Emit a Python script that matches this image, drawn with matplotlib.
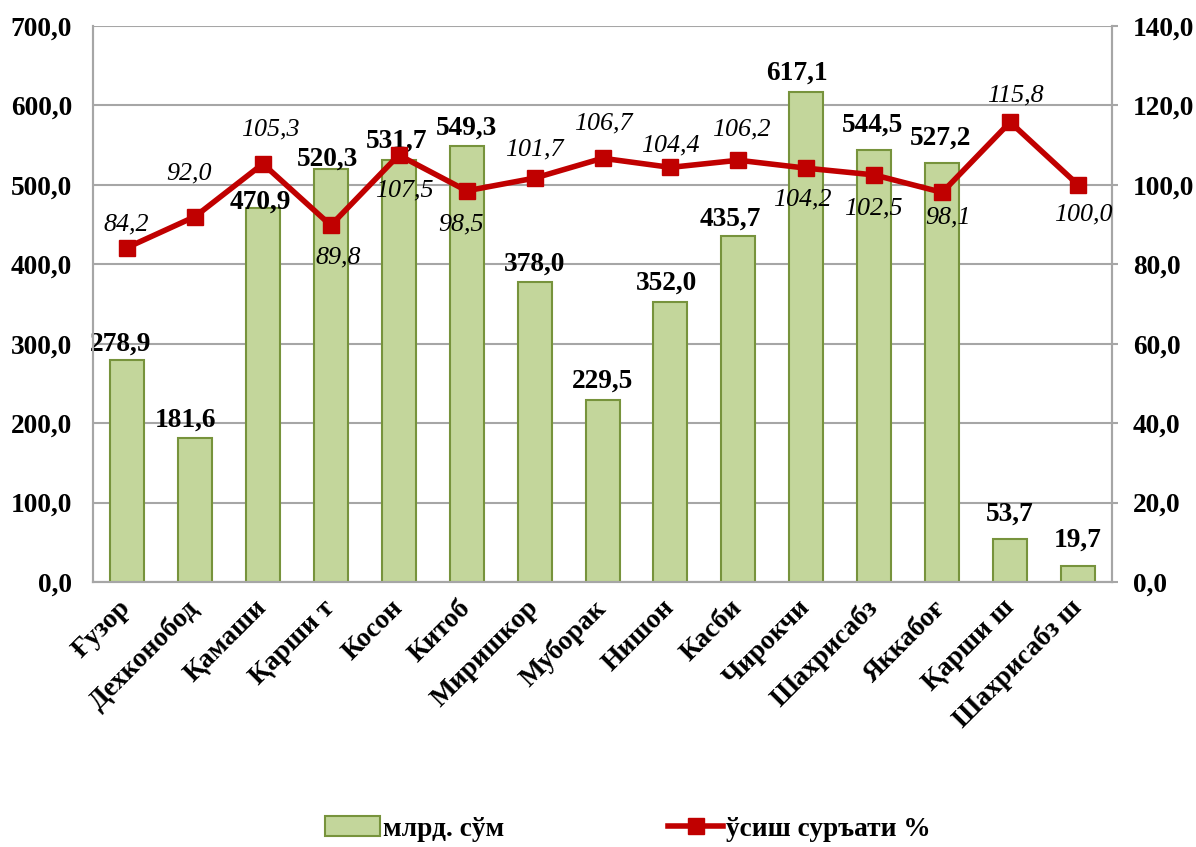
import matplotlib
matplotlib.use("Agg")
import matplotlib.pyplot as plt
from matplotlib.patches import Patch
from matplotlib.lines import Line2D
import numpy as np

plt.rcParams['font.family'] = ['Liberation Serif', 'DejaVu Serif']

DISTRICTS = ["Ғузор", "Дехконобод", "Қамаши", "Қарши т", "Косон", "Китоб",
             "Миришкор", "Муборак", "Нишон", "Касби", "Чирокчи", "Шахрисабз",
             "Яккабоғ", "Қарши ш", "Шахрисабз ш"]
VOLUME = [278.9, 181.6, 470.9, 520.3, 531.7, 549.3, 378.0, 229.5, 352.0,
          435.7, 617.1, 544.5, 527.2, 53.7, 19.7]
GROWTH = [84.2, 92.0, 105.3, 89.8, 107.5, 98.5, 101.7, 106.7, 104.4, 106.2,
          104.2, 102.5, 98.1, 115.8, 100.0]
LEFT_TICKS = [0, 100, 200, 300, 400, 500, 600, 700]
RIGHT_TICKS = [0, 20, 40, 60, 80, 100, 120, 140]
BAR_NAME = "млрд. сўм"
LINE_NAME = "ўсиш суръати %"

# label nudges in pixels (dx, dy), picked by eye from the reference
BAR_OFFSETS = [(-6, 16), (-9, 18), (-3, 6), (-3, 10), (-2, 19), (0, 18),
               (0, 18), (0, 19), (-4, 19), (-8, 17), (-9, 19), (-2, 24),
               (-2, 25), (0, 25), (0, 26)]
LINE_OFFSETS = [(-1, 23), (-6, 43), (7, 34), (7, -32), (6, -35), (-6, -34),
                (0, 29), (1, 35), (0, 22), (3, 31), (-4, -31), (-1, -34),
                (6, -25), (5, 27), (5, -30)]

GRID = "#A6A6A6"
BAR_FILL = "#C3D69B"
BAR_EDGE = "#77933C"
LINE_RED = "#C00000"
BOLD_SIZE = 19.7


def fmt(v):
    return f"{v:.1f}".replace(".", ",")


def main():
    fig = plt.figure(figsize=(11.96, 8.47), dpi=100)
    fig.subplots_adjust(left=0.0778, right=0.9298, top=0.9693, bottom=0.3129)
    ax = fig.add_subplot(111)
    ax2 = ax.twinx()

    x = np.arange(len(DISTRICTS))
    ax.bar(x, VOLUME, width=0.5, color=BAR_FILL, edgecolor=BAR_EDGE,
           linewidth=1.5, zorder=3)
    ax.set_xlim(-0.5, len(DISTRICTS) - 0.5)
    ax.set_ylim(0, 700)
    ax.set_yticks(LEFT_TICKS)
    ax.set_yticklabels([fmt(v) for v in LEFT_TICKS], fontsize=BOLD_SIZE,
                       fontweight="bold")
    ax.yaxis.grid(True, color=GRID, linewidth=1.5, zorder=0)
    ax.set_axisbelow(True)
    ax.tick_params(axis="y", length=0, pad=15)
    ax.set_xticks(x)
    ax.set_xticklabels(DISTRICTS, fontsize=BOLD_SIZE, fontweight="bold",
                       rotation=45, ha="right", rotation_mode="anchor",
                       va="center")
    ax.tick_params(axis="x", length=0, pad=16)

    for i, v in enumerate(VOLUME):
        dx, dy = BAR_OFFSETS[i]
        ax.annotate(fmt(v), (x[i], v), xytext=(dx, dy),
                    textcoords="offset pixels", ha="center", va="center",
                    fontsize=BOLD_SIZE, fontweight="bold", zorder=5)

    ax2.plot(x, GROWTH, color=LINE_RED, linewidth=4, marker="s",
             markersize=11, zorder=4)
    ax2.set_ylim(0, 140)
    ax2.set_yticks(RIGHT_TICKS)
    ax2.set_yticklabels([fmt(v) for v in RIGHT_TICKS], fontsize=BOLD_SIZE,
                        fontweight="bold")
    ax2.tick_params(axis="y", length=4, width=1.5, color=GRID, pad=11)

    for i, v in enumerate(GROWTH):
        dx, dy = LINE_OFFSETS[i]
        ax2.annotate(fmt(v), (x[i], v), xytext=(dx, dy),
                     textcoords="offset pixels", ha="center", va="center",
                     fontsize=18.7, fontstyle="italic", zorder=6)

    for a in (ax, ax2):
        a.spines["top"].set_visible(False)
        for side in ("left", "right", "bottom"):
            a.spines[side].set_color(GRID)
            a.spines[side].set_linewidth(1.5)

    handles = [Patch(facecolor=BAR_FILL, edgecolor=BAR_EDGE, linewidth=1.5),
               Line2D([], [], color=LINE_RED, linewidth=4, marker="s",
                      markersize=11)]
    fig.legend(handles, [BAR_NAME, LINE_NAME], loc="center",
               bbox_to_anchor=(0.525, 1 - 829 / 847), ncol=2, frameon=False,
               prop={"size": BOLD_SIZE, "weight": "bold"}, handlelength=2.0,
               handletextpad=0.1, columnspacing=6.0)

    fig.savefig("out.png", dpi=100)


if __name__ == "__main__":
    main()
